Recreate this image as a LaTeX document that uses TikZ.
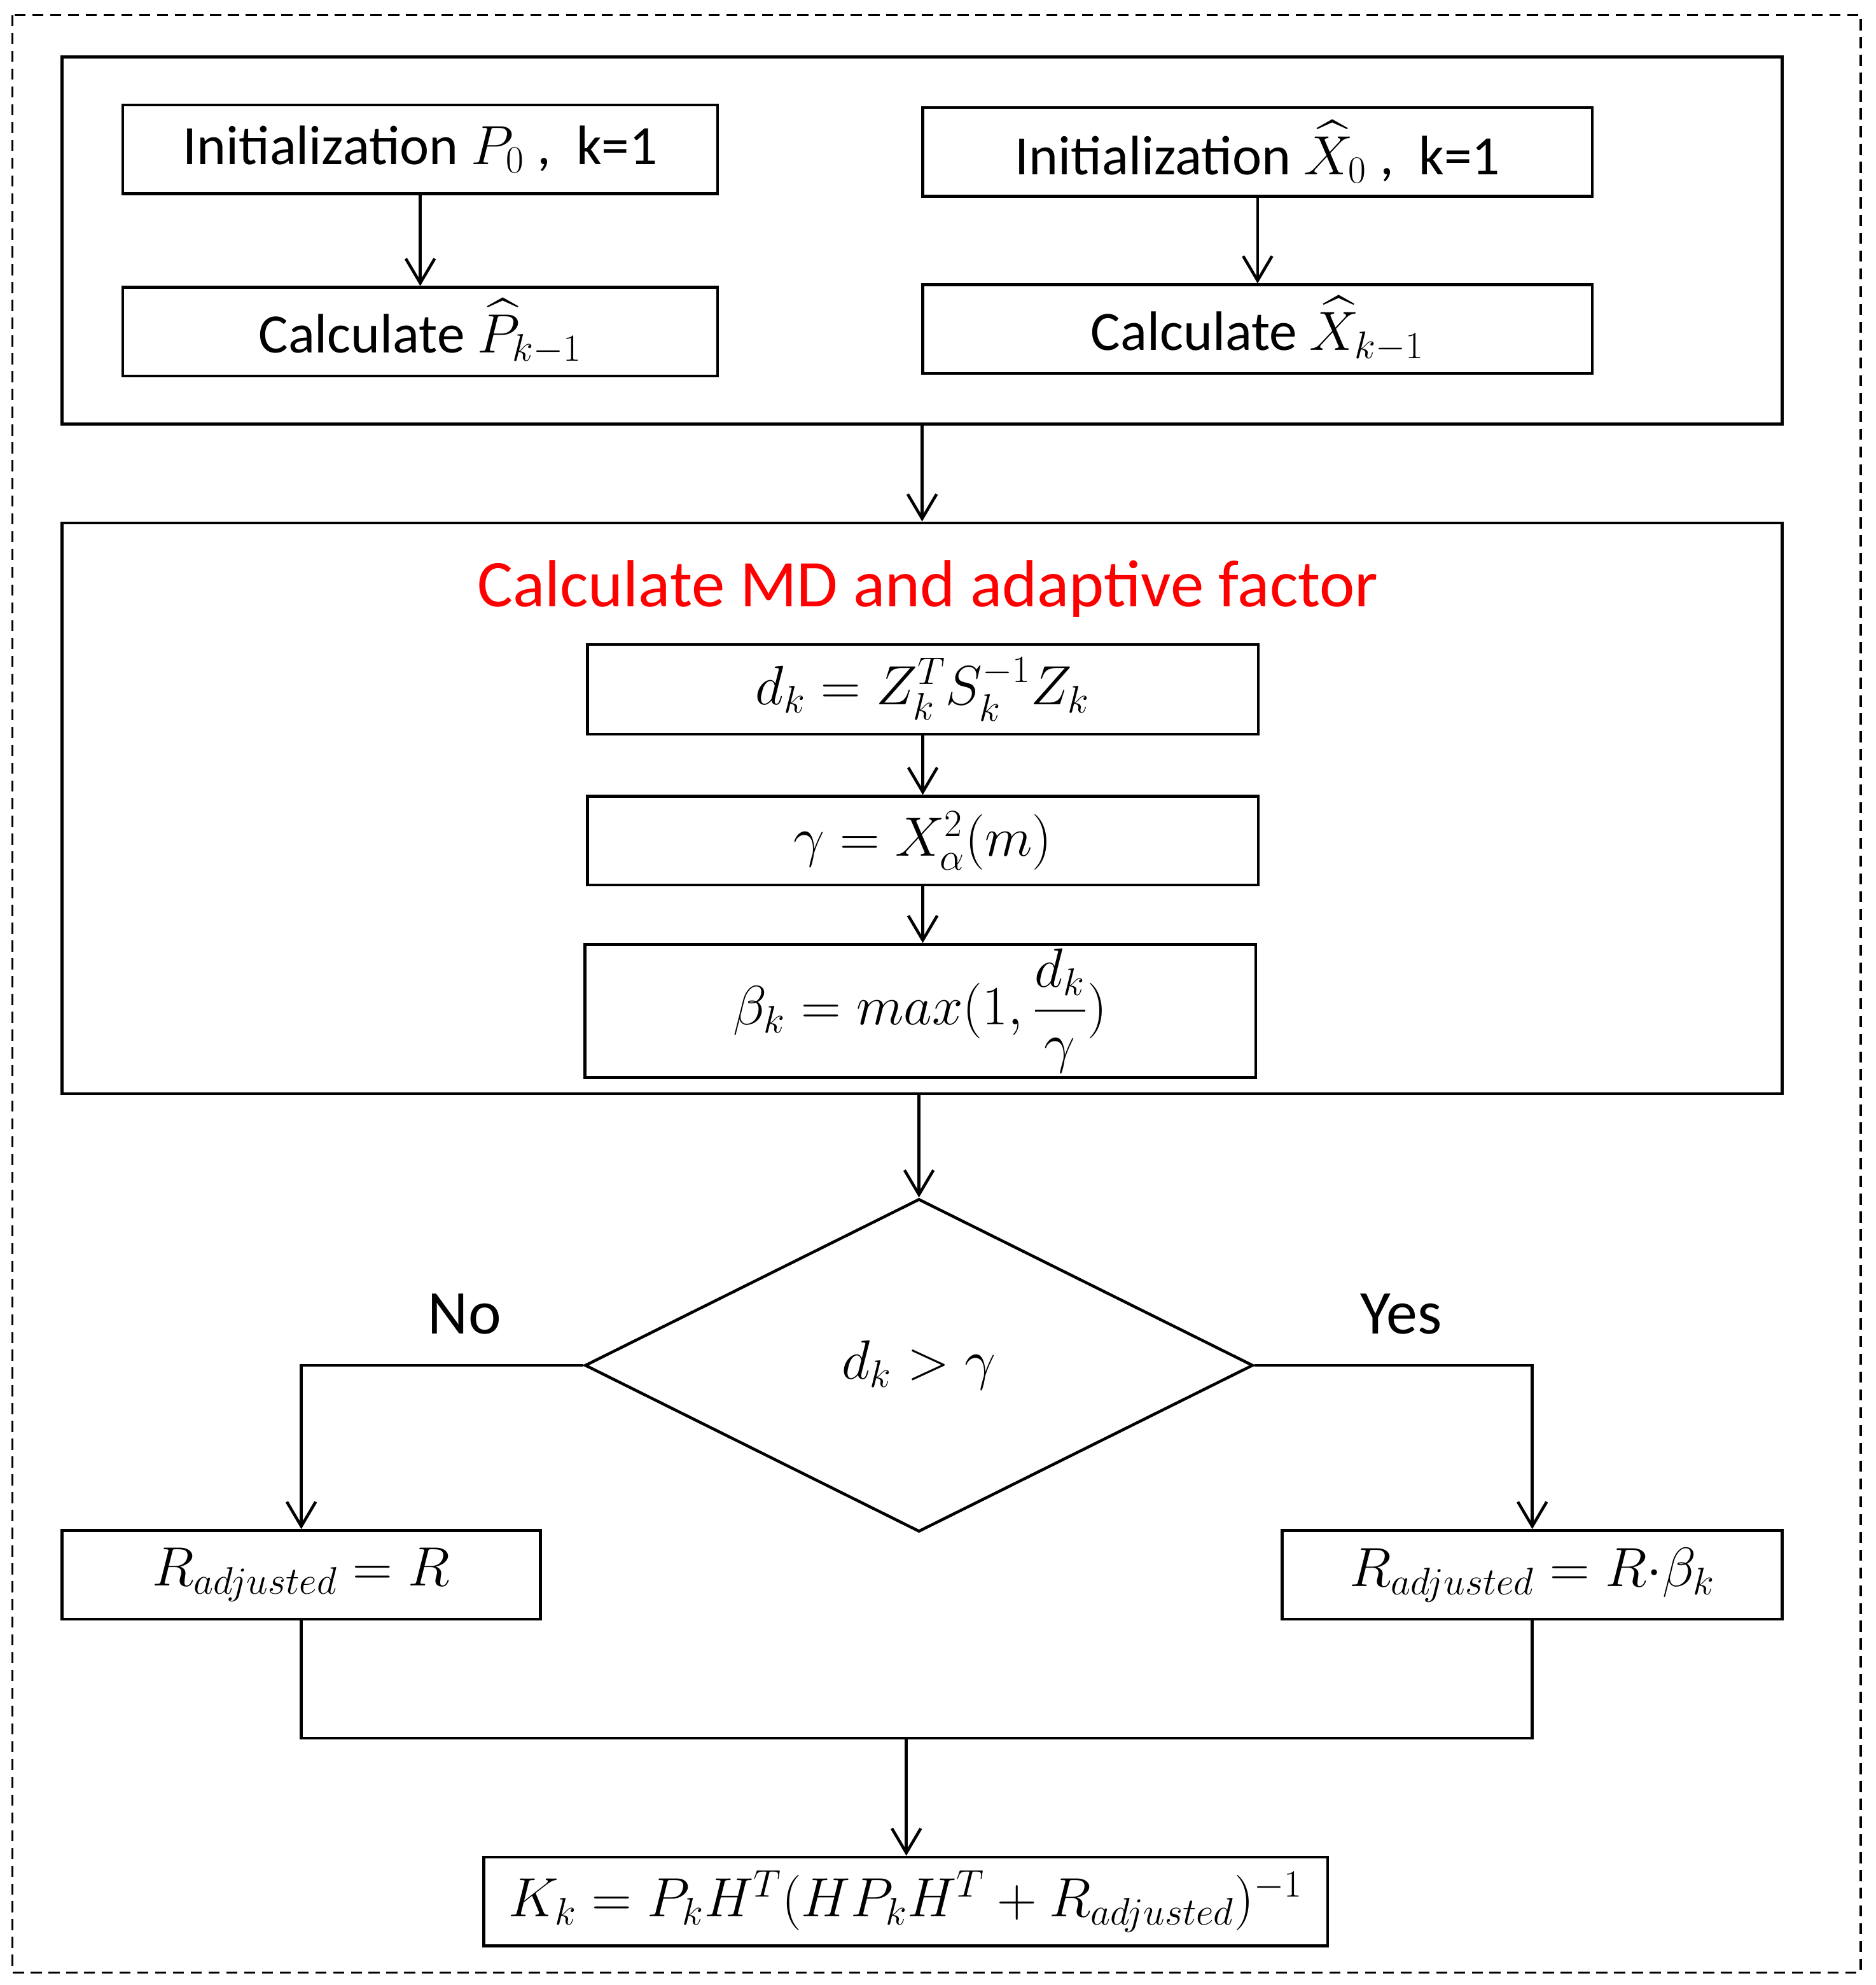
\documentclass[tikz,border=0pt]{standalone}
\usepackage{amsmath}
\usepackage{fontspec}
\setmainfont{Carlito}
\usetikzlibrary{arrows.meta,shapes.geometric}

\begin{document}
\begin{tikzpicture}[
  x=0.02cm, y=-0.02cm,
  font=\fontsize{25}{30}\selectfont,
  box/.style={draw, line width=1.3pt, minimum height=1.4cm, inner sep=0pt, align=center},
  stage/.style={draw, line width=1.3pt, inner sep=0pt, minimum width=27.18cm},
  decision/.style={draw, diamond, line width=1.3pt, inner sep=0pt, minimum width=10.56cm, minimum height=5.26cm},
  branch/.style={font=\fontsize{28}{32}\selectfont},
  arrow/.style={-{Straight Barb[length=11pt,width=13pt]}, line width=1.3pt},
  link/.style={line width=1.3pt}
]
\useasboundingbox (0,0) rectangle (1482,1568);
\draw[line width=0.9pt, dash pattern=on 5pt off 3pt] (10,12) rectangle (1470,1558);

% initialization stage
\node[stage, minimum height=5.8cm] (top) at (728.5,190) {};
\node[box, minimum width=9.4cm] (initP) at (332,118)
  {Initialization $P_0$ ,~~k=1};
\node[box, minimum width=9.4cm] (calcP) at (332,262)
  {Calculate $\widehat{P}_{k-1}$};
\node[box, minimum width=10.58cm] (initX) at (993.5,120)
  {Initialization $\widehat{X}_0$ ,~~k=1};
\node[box, minimum width=10.58cm] (calcX) at (993.5,260)
  {Calculate $\widehat{X}_{k-1}$};

\draw[arrow] (initP.south) -- (calcP.north);
\draw[arrow] (initX.south) -- (calcX.north);

% MD and adaptive factor
\node[stage, minimum height=9.02cm] (md) at (728.5,638.5) {};
\node[text=red, font=\fontsize{30}{36}\selectfont] (title) at (733,465)
  {Calculate MD and adaptive factor};
\node[box, minimum width=10.6cm, minimum height=1.42cm] (dk) at (729,544.5)
  {$d_k = Z_k^T S_k^{-1} Z_k$};
\node[box, minimum width=10.6cm] (gam) at (729,664)
  {$\gamma = X_\alpha^2(m)$};
\node[box, minimum width=10.6cm, minimum height=2.1cm] (beta) at (727,798.5)
  {$\beta_k = max(1,\dfrac{d_k}{\gamma})$};

\draw[arrow] (top.south) -- (md.north);
\draw[arrow] (dk.south) -- (dk.south |- gam.north);
\draw[arrow] (gam.south) -- (gam.south |- beta.north);

% decision
\node[decision] (dec) at (726,1078.5) {$d_k > \gamma$};
\node[branch] (no) at (367,1038) {No};
\node[branch] (yes) at (1107,1038) {Yes};
\draw[arrow] (md.south -| dec.north) -- (dec.north);

\node[box, minimum width=7.56cm] (rno) at (238,1244)
  {$R_{adjusted} = R$};
\node[box, minimum width=7.9cm] (ryes) at (1210.5,1244)
  {$R_{adjusted} = R{\cdot}\beta_k$};

\draw[arrow] (dec.west) -| (rno.north);
\draw[arrow] (dec.east) -| (ryes.north);

% gain
\coordinate (join) at (716,1373);
\node[box, minimum width=13.34cm] (kk) at (715.5,1502)
  {$K_k = P_k H^T (H P_k H^T + R_{adjusted})^{-1}$};

\draw[link] (rno.south) |- (join) -| (ryes.south);
\draw[arrow] (join) -- (join |- kk.north);

\end{tikzpicture}
\end{document}
